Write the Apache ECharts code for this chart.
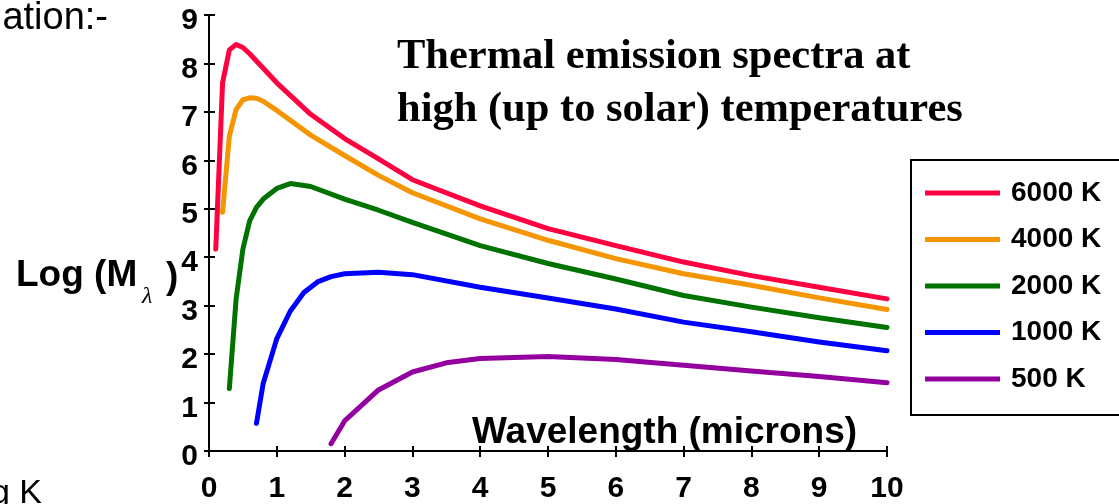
<!DOCTYPE html>
<html>
<head>
<meta charset="utf-8">
<title>Thermal emission spectra</title>
<script src="https://cdn.jsdelivr.net/npm/echarts@6/dist/echarts.min.js"></script>
<style>
  html, body { margin: 0; padding: 0; background: #fff; }
  #chart { width: 1119px; height: 504px; }
</style>
</head>
<body>
<div id="chart"></div>
<script>
// Log spectral exitance vs wavelength (microns) for five temperatures
const seriesNames = ['6000 K', '4000 K', '2000 K', '1000 K', '500 K'];
const seriesColors = ['#ff0040', '#f59500', '#007200', '#0000ff', '#9400a0'];

const wl6000 = [0.1, 0.2, 0.3, 0.4, 0.5, 0.6, 0.8, 1.0, 1.5, 2.0, 2.5, 3, 4, 5, 6, 7, 8, 9, 10];
const logM6000 = [4.17, 7.6, 8.28, 8.39, 8.33, 8.2, 7.9, 7.6, 6.95, 6.45, 6.03, 5.6, 5.06, 4.59, 4.24, 3.9, 3.62, 3.38, 3.14];

const wl4000 = [0.2, 0.3, 0.4, 0.5, 0.6, 0.7, 0.8, 1.0, 1.5, 2.0, 2.5, 3, 4, 5, 6, 7, 8, 9, 10];
const logM4000 = [4.93, 6.5, 7.05, 7.25, 7.29, 7.28, 7.22, 7.03, 6.52, 6.1, 5.69, 5.33, 4.79, 4.35, 3.97, 3.66, 3.42, 3.16, 2.92];

const wl2000 = [0.3, 0.4, 0.5, 0.6, 0.7, 0.8, 1.0, 1.2, 1.5, 2.0, 2.5, 3, 4, 5, 6, 7, 8, 9, 10];
const logM2000 = [1.29, 3.14, 4.17, 4.75, 5.03, 5.2, 5.42, 5.52, 5.46, 5.2, 4.97, 4.72, 4.24, 3.87, 3.55, 3.21, 2.97, 2.75, 2.55];

const wl1000 = [0.7, 0.8, 1.0, 1.2, 1.4, 1.6, 1.8, 2.0, 2.5, 3, 4, 5, 6, 7, 8, 9, 10];
const logM1000 = [0.57, 1.4, 2.32, 2.89, 3.27, 3.49, 3.6, 3.66, 3.69, 3.64, 3.38, 3.16, 2.93, 2.66, 2.46, 2.25, 2.07];

const wl500 = [1.8, 2.0, 2.5, 3, 3.5, 4, 5, 6, 7, 8, 9, 10];
const logM500 = [0.15, 0.62, 1.26, 1.63, 1.82, 1.91, 1.95, 1.89, 1.77, 1.65, 1.54, 1.41];

const xRange = { min: 0, max: 10, interval: 1 };
const yRange = { min: 0, max: 9, interval: 1 };

const titleLines = ['Thermal emission spectra at', 'high (up to solar) temperatures'];
const xAxisTitle = 'Wavelength (microns)';

const wavelengths = [wl6000, wl4000, wl2000, wl1000, wl500];
const logValues = [logM6000, logM4000, logM2000, logM1000, logM500];

const SANS = '"Liberation Sans", Arial, Helvetica, sans-serif';
const SERIF = '"Liberation Serif", "Times New Roman", serif';

function pairs(xs, ys) {
  return xs.map((x, i) => [x, ys[i]]);
}

const series = seriesNames.map((name, i) => ({
  name: name,
  type: 'line',
  xAxisIndex: 0,
  yAxisIndex: 0,
  data: pairs(wavelengths[i], logValues[i]),
  symbol: 'none',
  smooth: false,
  animation: false,
  lineStyle: { color: seriesColors[i], width: 5, cap: 'round', join: 'round' },
  itemStyle: { color: seriesColors[i] }
}));

const tickFont = { color: '#000', fontFamily: SANS, fontWeight: 'bold', fontSize: 30 };

const chart = echarts.init(document.getElementById('chart'), null, { renderer: 'canvas' });

chart.setOption({
  backgroundColor: '#ffffff',
  animation: false,
  grid: { left: 209, right: 232, top: 15, bottom: 51, containLabel: false },
  xAxis: [
    {
      type: 'value', position: 'bottom', ...xRange,
      axisLine: { show: true, onZero: false, lineStyle: { color: '#000', width: 2 } },
      axisTick: { show: true, inside: false, length: 6, lineStyle: { color: '#000', width: 2 } },
      axisLabel: { show: true, margin: 23, ...tickFont },
      splitLine: { show: false }
    },
    {
      type: 'value', position: 'bottom', ...xRange,
      axisLine: { show: false },
      axisTick: { show: true, inside: true, length: 5, lineStyle: { color: '#000', width: 2 } },
      axisLabel: { show: false },
      splitLine: { show: false }
    }
  ],
  yAxis: [
    {
      type: 'value', position: 'left', ...yRange,
      axisLine: { show: true, onZero: false, lineStyle: { color: '#000', width: 2 } },
      axisTick: { show: true, inside: false, length: 5, lineStyle: { color: '#000', width: 2 } },
      axisLabel: {
        show: true, margin: 11,
        formatter: '{v|{value}}',
        rich: { v: { ...tickFont, padding: [12, 0, 0, 0] } }
      },
      splitLine: { show: false }
    },
    {
      type: 'value', position: 'left', ...yRange,
      axisLine: { show: false },
      axisTick: { show: true, inside: true, length: 6, lineStyle: { color: '#000', width: 2 } },
      axisLabel: { show: false },
      splitLine: { show: false }
    }
  ],
  legend: {
    orient: 'vertical',
    left: 911,
    top: 160,
    data: seriesNames,
    icon: 'rect',
    itemWidth: 75,
    itemHeight: 5,
    itemGap: 18.5,
    padding: [19, 40, 22, 14],
    borderColor: '#000',
    borderWidth: 2,
    backgroundColor: '#fff',
    selectedMode: false,
    textStyle: { color: '#000', fontFamily: SANS, fontWeight: 'bold', fontSize: 28, padding: [0, 0, 0, 6] }
  },
  graphic: [
    {
      type: 'text', x: 397, y: 57, z: 10,
      style: { text: titleLines[0], fill: '#000', font: 'bold 42.5px ' + SERIF, verticalAlign: 'middle', align: 'left' }
    },
    {
      type: 'text', x: 397, y: 110, z: 10,
      style: { text: titleLines[1], fill: '#000', font: 'bold 42.5px ' + SERIF, verticalAlign: 'middle', align: 'left' }
    },
    {
      type: 'text', x: 472, y: 433, z: 10,
      style: { text: xAxisTitle, fill: '#000', font: 'bold 37px ' + SANS, verticalAlign: 'middle', align: 'left' }
    },
    {
      type: 'text', x: 16, y: 276, z: 10,
      style: { text: 'Log (M', fill: '#000', font: 'bold 37px ' + SANS, verticalAlign: 'middle', align: 'left' }
    },
    {
      type: 'text', x: 142, y: 297, z: 10,
      style: { text: 'λ', fill: '#000', font: 'italic 24px ' + SERIF, verticalAlign: 'middle', align: 'left' }
    },
    {
      type: 'text', x: 166, y: 278, z: 10,
      style: { text: ')', fill: '#000', font: 'bold 37px ' + SANS, verticalAlign: 'middle', align: 'left' }
    },
    {
      type: 'text', x: 108, y: 19, z: 10,
      style: { text: 'ation:-', fill: '#000', font: '38px ' + SANS, verticalAlign: 'middle', align: 'right' }
    },
    {
      type: 'text', x: -9, y: 494, z: 10,
      style: { text: 'g K', fill: '#000', font: '34px ' + SANS, verticalAlign: 'middle', align: 'left' }
    }
  ],
  series: series
});
</script>
</body>
</html>
